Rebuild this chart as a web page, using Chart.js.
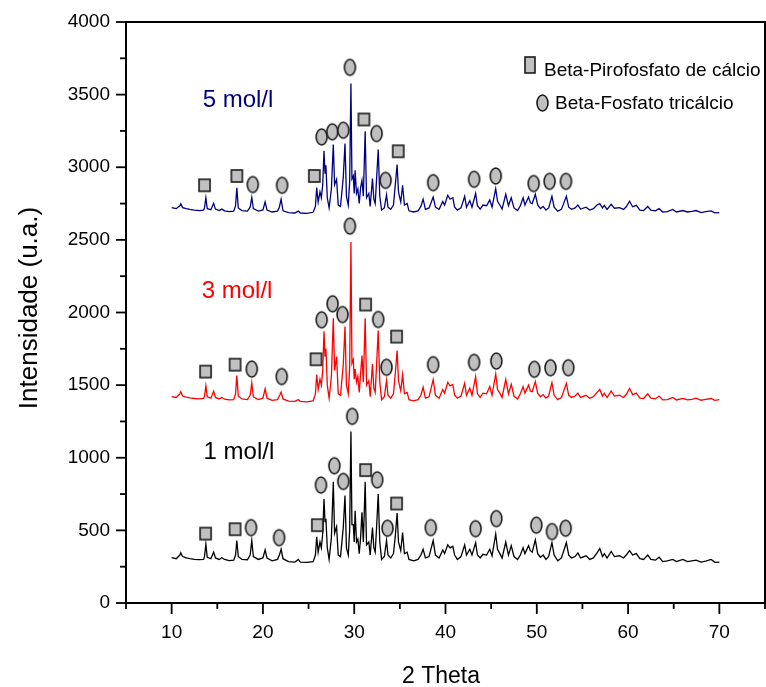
<!DOCTYPE html>
<html><head><meta charset="utf-8">
<script src="https://cdn.jsdelivr.net/npm/chart.js@4"></script>
<style>html,body{margin:0;padding:0;background:#fff;overflow:hidden}#wrap{width:766px;height:687px;overflow:hidden}canvas{display:block}</style>
</head><body><div id="wrap"><canvas id="c" width="766" height="687"></canvas></div>
<script>
// ---------- data ----------
const theta = [10.0,10.5,10.9,11.0,11.2,11.6,12.0,12.5,13.0,13.5,13.6,13.75,13.9,14.3,14.6,14.8,15.2,15.5,15.8,16.3,16.8,17.0,17.14,17.3,17.7,18.3,18.6,18.78,18.95,19.5,20.0,20.24,20.45,21.0,21.6,21.8,21.99,22.2,22.8,23.5,23.88,24.1,24.8,25.5,25.75,25.89,26.05,26.25,26.4,26.55,26.69,26.8,26.9,27.05,27.25,27.5,27.71,27.85,28.07,28.25,28.5,28.8,28.99,29.15,29.35,29.5,29.64,29.75,29.9,30.0,30.1,30.25,30.4,30.55,30.7,30.85,31.0,31.2,31.35,31.6,31.75,32.0,32.15,32.3,32.45,32.63,32.8,33.0,33.3,33.54,33.7,34.0,34.3,34.5,34.7,34.85,35.1,35.3,35.5,35.8,36.0,36.5,37.0,37.3,37.55,37.8,38.2,38.65,38.9,39.3,39.7,39.9,40.25,40.5,40.8,41.0,41.3,41.7,42.1,42.3,42.66,42.9,43.3,43.5,43.8,44.1,44.5,44.85,45.1,45.5,45.7,46.0,46.2,46.6,46.9,47.2,47.5,47.9,48.2,48.5,48.7,49.1,49.3,49.5,49.84,50.1,50.4,50.7,51.0,51.3,51.66,51.9,52.3,52.7,53.24,53.5,53.8,54.2,54.5,54.8,55.4,55.8,56.2,56.6,56.9,57.2,57.4,57.7,58.15,58.5,59.06,59.5,59.8,60.16,60.5,60.9,61.3,61.7,62.16,62.5,63.0,63.4,63.8,64.3,64.9,65.3,66.0,66.5,67.0,67.45,68.0,68.5,69.1,69.5,70.0];

const int1mol = [312,305,330,345,320,310,305,300,298,300,320,405,315,305,350,310,300,312,300,292,295,330,430,320,300,298,330,430,320,300,310,365,310,290,300,330,370,305,285,282,300,282,280,285,330,455,350,420,380,480,715,560,580,380,300,450,835,480,525,330,320,520,740,380,330,500,1180,540,540,420,635,420,440,340,450,625,420,835,400,420,330,520,380,350,520,750,420,300,320,430,330,310,340,460,620,420,360,485,340,350,300,290,300,330,370,310,320,430,330,310,365,340,400,380,390,330,300,320,400,330,370,330,415,330,310,335,330,370,325,475,370,335,310,420,330,395,320,300,330,380,340,395,360,350,435,340,315,330,300,320,415,330,290,310,415,330,310,320,345,310,325,300,310,345,375,320,340,310,355,320,325,310,330,360,330,340,305,300,330,300,295,315,285,290,300,285,300,285,290,295,282,288,300,280,282];

const int3mol = [1421,1415,1440,1455,1425,1418,1412,1408,1405,1408,1425,1495,1420,1410,1458,1415,1405,1415,1403,1398,1400,1440,1566,1425,1405,1400,1430,1515,1420,1400,1410,1475,1410,1395,1400,1425,1452,1405,1390,1388,1400,1388,1385,1392,1440,1572,1470,1540,1500,1600,1870,1700,1750,1500,1410,1560,1960,1600,1697,1440,1430,1640,1903,1500,1440,1620,2485,1650,1676,1540,1611,1520,1560,1450,1580,1703,1520,1960,1500,1530,1420,1646,1480,1450,1640,1876,1520,1400,1420,1531,1430,1410,1440,1580,1738,1530,1460,1572,1440,1450,1400,1392,1400,1430,1485,1410,1420,1538,1430,1410,1470,1445,1520,1495,1505,1430,1410,1425,1512,1430,1480,1430,1558,1440,1415,1445,1440,1490,1430,1577,1470,1440,1415,1540,1440,1505,1425,1405,1440,1490,1445,1500,1460,1455,1524,1445,1420,1435,1410,1425,1517,1430,1400,1415,1512,1430,1415,1425,1445,1415,1430,1410,1420,1450,1470,1425,1445,1415,1460,1425,1430,1415,1435,1478,1435,1445,1410,1408,1440,1410,1405,1425,1398,1400,1415,1398,1408,1398,1402,1410,1396,1402,1408,1395,1400];

const int5mol = [2722,2715,2735,2748,2722,2715,2710,2705,2702,2705,2720,2790,2715,2708,2752,2712,2702,2712,2700,2695,2698,2735,2858,2720,2702,2698,2725,2792,2715,2698,2706,2762,2705,2692,2698,2725,2780,2700,2688,2685,2698,2685,2682,2690,2730,2860,2760,2830,2790,2880,3113,2960,3014,2790,2720,2850,3156,2880,2917,2740,2730,2930,3163,2800,2740,2900,3577,2920,2940,2820,2979,2820,2850,2750,2860,2910,2800,3248,2790,2820,2730,2922,2780,2750,2920,3122,2800,2705,2720,2810,2725,2710,2740,2880,3018,2830,2760,2876,2740,2750,2700,2692,2700,2730,2780,2710,2720,2795,2725,2710,2765,2740,2807,2780,2790,2725,2705,2720,2800,2725,2770,2725,2819,2735,2712,2740,2735,2775,2725,2853,2765,2735,2712,2814,2735,2790,2720,2702,2735,2790,2740,2795,2755,2750,2814,2740,2715,2730,2705,2720,2800,2725,2698,2710,2800,2725,2710,2720,2740,2712,2725,2705,2715,2740,2750,2720,2738,2710,2745,2718,2722,2710,2728,2766,2728,2738,2705,2702,2730,2705,2700,2715,2692,2695,2710,2692,2702,2692,2696,2702,2688,2694,2700,2686,2688];

// phase markers (Beta-Pirofosfato = squares, Beta-Fosfato tricálcio = circles)
const pyro1X = [13.72,16.95,25.96,31.25,34.64];
const pyro1Y = [478,508,536,915,685];
const tcp1X = [18.70,21.77,26.36,27.82,28.8,29.78,32.52,33.65,38.39,43.3,45.57,49.95,51.66,53.16];
const tcp1Y = [519,450,812,945,837,1285,848,515,519,512,581,536,492,515];
const pyro3X = [13.72,16.95,25.82,31.25,34.64];
const pyro3Y = [1593,1641,1678,2055,1834];
const tcp3X = [18.78,22.06,26.43,27.63,28.72,29.53,32.63,33.54,38.65,43.13,45.57,49.73,51.5,53.45];
const tcp3Y = [1611,1559,1950,2060,1986,2595,1952,1623,1641,1657,1666,1609,1620,1620];
const pyro5X = [13.6,17.14,25.63,31.06,34.82];
const pyro5Y = [2876,2940,2940,3329,3110];
const tcp5X = [18.89,22.1,26.43,27.6,28.8,29.53,32.45,33.44,38.65,43.13,45.5,49.66,51.4,53.2];
const tcp5Y = [2881,2876,3209,3244,3255,3688,3232,2910,2894,2917,2940,2888,2903,2903];

const xTickLabels = [10,20,30,40,50,60,70];
const yTickLabels = [0,500,1000,1500,2000,2500,3000,3500,4000];
const seriesNames = ['1 mol/l','3 mol/l','5 mol/l'];
const legendNames = ['Beta-Pirofosfato de cálcio','Beta-Fosfato tricálcio'];

// ---------- styling helpers ----------
const FAMILY = "'Liberation Sans', Arial, Helvetica, sans-serif";
const FILL = '#c0c0c0', EDGE = '#1a1a1a';

function ellipseImg(w,h){
  const c=document.createElement('canvas'); c.width=w+4; c.height=h+4;
  const g=c.getContext('2d'); g.beginPath();
  g.ellipse(c.width/2,c.height/2,w/2,h/2,0,0,Math.PI*2);
  g.fillStyle=FILL; g.fill(); g.lineWidth=1.6; g.strokeStyle=EDGE; g.stroke(); return c;
}
function rectImg(w,h){
  const c=document.createElement('canvas'); c.width=w+4; c.height=h+4;
  const g=c.getContext('2d');
  g.fillStyle=FILL; g.fillRect(2,2,w,h); g.lineWidth=1.6; g.strokeStyle=EDGE; g.strokeRect(2,2,w,h); return c;
}
const circImg = ellipseImg(11,16);
const sqImg = rectImg(11,12);

const pts = (xs,ys)=>xs.map((x,i)=>({x, y: ys[i]}));
const lineDs = (ys,color)=>({type:'line', data: pts(theta,ys), borderColor:color, borderWidth:1.3, pointRadius:0, tension:0, fill:false, order:2});
const markDs = (xs,ys,img)=>({type:'scatter', data: pts(xs,ys), pointStyle: img, pointRadius: 8, order:0});

// ---------- decorations ----------
const decor = {
  id:'decor',
  afterDraw(chart){
    const {ctx, chartArea:{left,right,top,bottom}, scales:{x,y}} = chart;
    ctx.save();
    ctx.strokeStyle='#000'; ctx.lineWidth=2;
    ctx.strokeRect(left, top, right-left, bottom-top);
    ctx.lineWidth=1.8;
    for(let v=0; v<=4000; v+=250){
      const py=y.getPixelForValue(v), len = (v%500===0)?10:6;
      ctx.beginPath(); ctx.moveTo(left-len,py); ctx.lineTo(left,py); ctx.stroke();
    }
    for(let v=5; v<=75; v+=5){
      const px=x.getPixelForValue(v), len=(v%10===0)?11:6;
      ctx.beginPath(); ctx.moveTo(px,bottom); ctx.lineTo(px,bottom+len); ctx.stroke();
    }
    // axis titles
    ctx.fillStyle='#000';
    ctx.font = `26px ${FAMILY}`; ctx.textAlign='center'; ctx.textBaseline='middle';
    ctx.save(); ctx.translate(30, 308); ctx.rotate(-Math.PI/2); ctx.fillText('Intensidade (u.a.)',0,0); ctx.restore();
    ctx.font = `23px ${FAMILY}`; ctx.textBaseline='alphabetic';
    ctx.fillText('2 Theta', 441, 683);
    // series labels
    ctx.font = `24px ${FAMILY}`; ctx.textAlign='left';
    ctx.fillStyle='#000000'; ctx.fillText(seriesNames[0], x.getPixelForValue(13.5), y.getPixelForValue(990));
    ctx.fillStyle='#ff0000'; ctx.fillText(seriesNames[1], x.getPixelForValue(13.3), y.getPixelForValue(2100));
    ctx.fillStyle='#000080'; ctx.fillText(seriesNames[2], x.getPixelForValue(13.4), y.getPixelForValue(3416));
    // legend
    ctx.drawImage(rectImg(10,16), 523, 55);
    ctx.drawImage(ellipseImg(11,16), 535, 93);
    ctx.fillStyle='#000'; ctx.font = `19px ${FAMILY}`;
    ctx.fillText(legendNames[0], 544, 76);
    ctx.fillText(legendNames[1], 555, 109);
    ctx.restore();
  }
};

new Chart(document.getElementById('c'), {
  type:'line',
  data:{datasets:[
    markDs(pyro1X,pyro1Y,sqImg), markDs(tcp1X,tcp1Y,circImg),
    markDs(pyro3X,pyro3Y,sqImg), markDs(tcp3X,tcp3Y,circImg),
    markDs(pyro5X,pyro5Y,sqImg), markDs(tcp5X,tcp5Y,circImg),
    lineDs(int1mol,'#000000'), lineDs(int3mol,'#ff0000'), lineDs(int5mol,'#000080')
  ]},
  options:{
    responsive:false, animation:false, devicePixelRatio:1,
    layout:{autoPadding:false, padding:{left:0,top:22,right:1,bottom:0}},
    plugins:{legend:{display:false}, tooltip:{enabled:false}},
    events:[],
    scales:{
      x:{type:'linear', min:5, max:75,
        afterBuildTicks: s=>{ s.ticks = xTickLabels.map(v=>({value:v})); },
        afterFit: s=>{ s.height = 84; s.paddingLeft=0; s.paddingRight=0; s.paddingTop=0; s.paddingBottom=0; },
        grid:{display:false, drawTicks:false}, border:{display:false},
        ticks:{padding:18, color:'#000', autoSkip:false, maxRotation:0, font:{family:FAMILY, size:19}, callback:v=>String(v)}},
      y:{type:'linear', min:0, max:4000,
        afterBuildTicks: s=>{ s.ticks = yTickLabels.map(v=>({value:v})); },
        afterFit: s=>{ s.width = 126; s.paddingLeft=0; s.paddingRight=0; s.paddingTop=0; s.paddingBottom=0; },
        grid:{display:false, drawTicks:false}, border:{display:false},
        ticks:{padding:16, color:'#000', autoSkip:false, font:{family:FAMILY, size:19}, callback:v=>String(v)}}
    }
  },
  plugins:[decor]
});
</script></body></html>
